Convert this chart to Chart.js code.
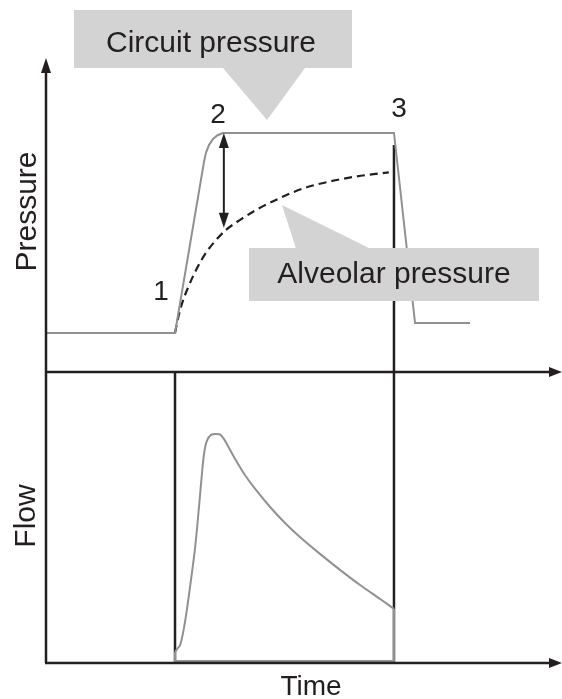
<!DOCTYPE html>
<html>
<head>
<meta charset="utf-8">
<script src="https://cdn.jsdelivr.net/npm/chart.js@4/dist/chart.umd.min.js"></script>
<style>
  body { margin: 0; background: #fff; }
  #wrap { width: 562px; height: 699px; }
</style>
</head>
<body>
<div id="wrap"><canvas id="grafico" width="562" height="699"></canvas></div>
<script>
// time is in arbitrary units 0..100, pressure and flow in arbitrary units 0..100
let circuitTime     = [0, 25.1, 30.7, 31.1, 31.7, 32.5, 33.3, 34.4, 67.7, 71.8, 82.5];
let circuitPressure = [12.6, 12.6, 67.4, 70.6, 73.2, 75.2, 76.3, 77.1, 77.1, 15.8, 15.8];

let alveolarTime     = [25.1, 25.7, 26.5, 27.6, 29.2, 31.1, 33.1, 35.0, 37.7, 40.9, 45.5, 50.0, 55.3, 60.5, 66.7];
let alveolarPressure = [12.6, 17.4, 22.3, 27.1, 32.9, 38.4, 42.6, 45.8, 49.0, 52.3, 56.1, 59.2, 61.5, 63.1, 64.4];

let flowTime  = [25.1, 25.6, 26.1, 26.7, 27.4, 28.2, 29.0, 29.8, 30.4, 30.8, 31.3, 32.1, 33.1, 33.9, 34.6,
                 35.4, 36.8, 38.7, 40.7, 43.6, 46.5, 49.4, 53.3, 57.2, 61.1, 65.0, 67.7];
let flowValue = [3.8, 5.0, 6.2, 10.7, 18.2, 28.5, 39.5, 54.3, 66.3, 72.5, 76.3, 78.4, 78.7, 78.5, 77.0,
                 74.6, 70.1, 64.6, 59.8, 53.6, 48.1, 43.3, 37.5, 32.0, 26.8, 22.0, 18.6];
// closing edge of the flow trace (down at end of inspiration, back along the baseline)
let flowEdgeTime  = [67.7, 67.7, 25.1, 25.1];
let flowEdgeValue = [18.6, 0.7, 0.7, 3.8];

// phase markers: start of inspiration (1) and end of inspiration (3)
let markerStart = 25.1;
let markerEnd = 67.7;
let markerEndTop = 73.2;

// double arrow between circuit and alveolar pressure
let gapTime = 34.6;
let gapFrom = 77.1;
let gapTo = 46.5;

const ink = '#231f20';
const grisLinea = '#8e9294';
const grisCaja = '#d3d3d3';
const fuente = "'Liberation Sans', Arial, sans-serif";

function pares(xs, ys) {
  return xs.map((x, i) => ({x: x, y: ys[i]}));
}

function flecha(ctx, x, y, dir, largo, ancho) {
  // dir: 'up','down','right'
  ctx.beginPath();
  if (dir == 'up') {
    ctx.moveTo(x, y); ctx.lineTo(x - ancho, y + largo); ctx.lineTo(x + ancho, y + largo);
  } else if (dir == 'down') {
    ctx.moveTo(x, y); ctx.lineTo(x - ancho, y - largo); ctx.lineTo(x + ancho, y - largo);
  } else {
    ctx.moveTo(x, y); ctx.lineTo(x - largo, y - ancho); ctx.lineTo(x - largo, y + ancho);
  }
  ctx.closePath();
  ctx.fill();
}

const dibujos = {
  id: 'dibujos',
  afterDatasetsDraw(chart) {
    const ctx = chart.ctx;
    const xs = chart.scales.x;
    const yP = chart.scales.yP;
    const area = chart.chartArea;
    ctx.save();
    ctx.fillStyle = ink;
    ctx.strokeStyle = ink;

    // double arrow
    let ax = xs.getPixelForValue(gapTime);
    let a1 = yP.getPixelForValue(gapFrom);
    let a2 = yP.getPixelForValue(gapTo);
    ctx.lineWidth = 2;
    ctx.beginPath();
    ctx.moveTo(ax, a1 + 10);
    ctx.lineTo(ax, a2 - 10);
    ctx.stroke();
    flecha(ctx, ax, a1, 'up', 15, 5);
    flecha(ctx, ax, a2, 'down', 15, 5);

    // callout: circuit pressure
    ctx.fillStyle = grisCaja;
    ctx.fillRect(74, 10, 278, 58);
    ctx.beginPath();
    ctx.moveTo(223, 68); ctx.lineTo(305, 68); ctx.lineTo(267, 120);
    ctx.closePath();
    ctx.fill();

    // callout: alveolar pressure
    ctx.fillRect(249, 248, 290, 53);
    ctx.beginPath();
    ctx.moveTo(296, 248.5); ctx.lineTo(370, 248.5); ctx.lineTo(282, 205);
    ctx.closePath();
    ctx.fill();

    ctx.fillStyle = ink;
    ctx.font = '30px ' + fuente;
    ctx.textAlign = 'center';
    ctx.textBaseline = 'alphabetic';
    ctx.fillText('Circuit pressure', 211, 52);
    ctx.fillText('Alveolar pressure', 394, 283);

    ctx.font = '28px ' + fuente;
    ctx.fillText('1', 161, 300);
    ctx.fillText('2', 218, 123);
    ctx.fillText('3', 399, 117);
    ctx.fillText('Time', 311, 695);

    ctx.font = '30px ' + fuente;
    ctx.save();
    ctx.translate(36, 211.5);
    ctx.rotate(-Math.PI / 2);
    ctx.fillText('Pressure', 0, 0);
    ctx.restore();
    ctx.save();
    ctx.translate(35, 516);
    ctx.rotate(-Math.PI / 2);
    ctx.fillText('Flow', 0, 0);
    ctx.restore();

    // axes with arrows
    let mid = yP.getPixelForValue(0);
    ctx.lineWidth = 2.5;
    ctx.beginPath();
    ctx.moveTo(area.left, area.bottom);
    ctx.lineTo(area.left, 66);
    ctx.moveTo(area.left, mid);
    ctx.lineTo(552, mid);
    ctx.moveTo(area.left - 1, area.bottom);
    ctx.lineTo(552, area.bottom);
    ctx.stroke();
    flecha(ctx, area.left, 58, 'up', 15, 5);
    flecha(ctx, 562, mid, 'right', 13, 5);
    flecha(ctx, 562, area.bottom, 'right', 13, 5);
    ctx.restore();
  }
};

new Chart(document.getElementById('grafico'), {
  type: 'line',
  data: {
    datasets: [
      {
        label: 'Flow',
        data: pares(flowTime, flowValue),
        yAxisID: 'yF',
        borderColor: grisLinea,
        borderWidth: 2,
        pointRadius: 0,
        tension: 0.3,
        order: 1
      },
      {
        label: 'Flow edge',
        data: pares(flowEdgeTime, flowEdgeValue),
        yAxisID: 'yF',
        borderColor: grisLinea,
        borderWidth: 2,
        pointRadius: 0,
        tension: 0,
        order: 1
      },
      {
        label: 'Circuit pressure',
        data: pares(circuitTime, circuitPressure),
        yAxisID: 'yP',
        borderColor: grisLinea,
        borderWidth: 2,
        pointRadius: 0,
        tension: 0,
        order: 1
      },
      {
        label: 'Alveolar pressure',
        data: pares(alveolarTime, alveolarPressure),
        yAxisID: 'yP',
        borderColor: ink,
        borderWidth: 2.2,
        borderDash: [8, 5],
        pointRadius: 0,
        cubicInterpolationMode: 'monotone',
        order: 1
      },
      {
        label: 'start',
        data: [{x: markerStart, y: 0}, {x: markerStart, y: 100}],
        yAxisID: 'yF',
        borderColor: ink,
        borderWidth: 2.5,
        pointRadius: 0,
        order: 2
      },
      {
        label: 'end top',
        data: [{x: markerEnd, y: markerEndTop}, {x: markerEnd, y: 0}],
        yAxisID: 'yP',
        borderColor: ink,
        borderWidth: 2.5,
        pointRadius: 0,
        order: 2
      },
      {
        label: 'end bottom',
        data: [{x: markerEnd, y: 100}, {x: markerEnd, y: 0}],
        yAxisID: 'yF',
        borderColor: ink,
        borderWidth: 2.5,
        pointRadius: 0,
        order: 2
      }
    ]
  },
  options: {
    responsive: false,
    animation: false,
    devicePixelRatio: 1,
    layout: { padding: { left: 46, right: 2, top: 62, bottom: 36 } },
    plugins: { legend: { display: false }, tooltip: { enabled: false } },
    elements: { line: { fill: false } },
    datasets: { line: { clip: false } },
    scales: {
      x: { type: 'linear', min: 0, max: 100, display: false },
      // left stacks are laid out in reverse order, so the flow axis is listed first
      yF: { type: 'linear', min: 0, max: 100, position: 'left', stack: 'ejes', stackWeight: 291, display: false },
      yP: { type: 'linear', min: 0, max: 100, position: 'left', stack: 'ejes', stackWeight: 310, display: false }
    }
  },
  plugins: [dibujos]
});
</script>
</body>
</html>
